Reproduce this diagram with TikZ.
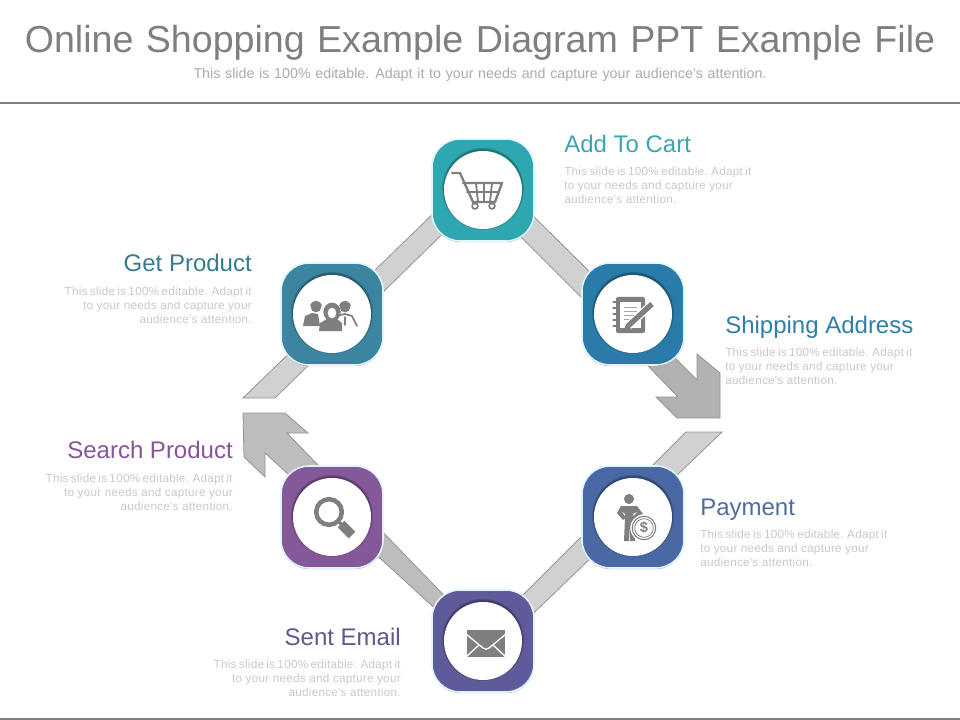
\documentclass[tikz,border=0pt]{standalone}
\usepackage{fontspec}
\setmainfont{Liberation Sans}
\newfontfamily\bodyfont[LetterSpace=2.2]{Liberation Sans}
\usetikzlibrary{shadows}
\definecolor{cCart}{HTML}{2FA7B1}
\definecolor{cShip}{HTML}{2A7BA9}
\definecolor{cPay}{HTML}{4A69A4}
\definecolor{cMail}{HTML}{5F5A99}
\definecolor{cFind}{HTML}{85589A}
\definecolor{cGet}{HTML}{3C85A0}
\definecolor{hCart}{HTML}{3BA5B3}
\definecolor{hShip}{HTML}{2F7FA8}
\definecolor{hPay}{HTML}{4F6D9E}
\definecolor{hMail}{HTML}{5B5A8E}
\definecolor{hFind}{HTML}{87559A}
\definecolor{hGet}{HTML}{367C90}
\definecolor{icon}{HTML}{7F7F7F}
\tikzset{
  tile/.style={draw=white!88!cyan,line width=1.2pt,rounded corners=21pt,minimum size=76.5pt,inner sep=0pt,
    drop shadow={shadow xshift=0pt,shadow yshift=-0.8pt,opacity=.35,fill=black}},
  disc/.style={circle,fill=white,minimum size=58.5pt,inner sep=0pt},
  strip/.style={fill=#1,draw=gray!85,line width=.6pt,line join=miter},
  heading/.style={inner sep=0pt,font=\fontsize{18}{21}\selectfont},
  blurb/.style={inner sep=0pt,text=black!21,font=\bodyfont\fontsize{8.8}{10.5}\selectfont},
  iconline/.style={draw=icon,line width=#1,line cap=round,line join=round},
  iconfill/.style={fill=icon},
}
\newcommand{\disclayer}[1]{%
  \begin{scope}
  \foreach \r in {29.6,30,30.4,30.8}{\fill[black,opacity=.09] (#1)++(0,-1.2) circle[radius=\r pt];}
  \end{scope}}
\newcommand{\blurbR}{\spaceskip=.2em\relax This slide is 100\% editable. Adapt it\\to your needs and capture your\\audience's attention.}
\begin{document}
\begin{tikzpicture}[x=0.75pt,y=-0.75pt]
\useasboundingbox (0,0) rectangle (960,720);
\fill[white] (0,0) rectangle (960,720);
% header
\node[inner sep=0pt,text=icon,font=\fontsize{28.2}{30}\selectfont] (title) at (480,43) {\spaceskip=.33em Online Shopping Example Diagram PPT Example File};
\node[inner sep=0pt,text=black!33,font=\fontsize{10.7}{12}\selectfont] (sub) at (480,75) {\spaceskip=.33em This slide is 100\% editable. Adapt it to your needs and capture your audience's attention.};
\coordinate (ruleL) at (0,103); \coordinate (ruleR) at (960,103);
\draw[icon,line width=2.2pt] (ruleL) -- (ruleR);
\coordinate (footL) at (0,719); \coordinate (footR) at (960,719);
\draw[icon,line width=1.8pt] (footL) -- (footR);
% strips
\draw[strip=black!18] (243,398) -- (470,178) -- (470,207) -- (275,398) -- cycle;
\draw[strip=black!18] (505,188) -- (610,292) -- (600,316) -- (490,206) -- cycle;
\draw[strip=black!30] (640,323) -- (697,380) -- (697,354) -- (720,373) -- (720,418) -- (677,418) -- (656,397) -- (678,397) -- (620,337) -- cycle;
\draw[strip=black!18] (722,432) -- (515,631) -- (505,613) -- (686,432) -- cycle;
\draw[strip=black!26] (463,615) -- (453,625) -- (265,453) -- (265,477) -- (244,457) -- (243,413) -- (285,413) -- (308,433) -- (287,433) -- cycle;
% tiles
\node[tile,fill=cCart] (cart) at (483,190) {};
\node[tile,fill=cShip] (ship) at (633,314) {};
\node[tile,fill=cPay] (pay) at (633,517) {};
\node[tile,fill=cMail] (mail) at (483,641) {};
\node[tile,fill=cFind] (find) at (332,517) {};
\node[tile,fill=cGet] (get) at (332,314) {};
\foreach \n in {cart,ship,pay,mail,find,get}{\disclayer{\n}\node[disc] (\n disc) at (\n) {};}
% cart icon
\begin{scope}[shift={(cart)}]
\draw[iconline=1.8pt] (-31,-17) -- (-23,-17) -- (-10,12) -- (12,12);
\draw[iconline=1.8pt] (-20,-7) -- (19,-7) -- (12,12);
\draw[iconline=1.4pt] (-7,-7) -- (-5,12) (1,-7) -- (1,12) (9,-7) -- (7,12) (-16,2) -- (16,2);
\draw[iconline=1.3pt] (-8,16) circle[radius=2.2pt] (9,16) circle[radius=2.2pt];
\draw[iconline=1.3pt] (-10,12) -- (-8,14) (12,12) -- (9,14);
\end{scope}
% notebook icon
\begin{scope}[shift={(ship)}]
\fill[icon,rounded corners=1.5pt] (-17,-17) rectangle (12,19);
\fill[white] (-13,-12) rectangle (8,14);
\draw[black!35,line width=.5pt] (-9,-7) -- (4,-7) (-9,-3) -- (4,-3) (-9,1) -- (1,1) (-9,5) -- (-2,5);
\draw[iconline=1pt] \foreach \y in {-12,-6,0,6,12}{(-20,\y) -- (-17,\y)};
\draw[white,line width=6pt] (-6,13) -- (18,-9);
\draw[icon,line width=4pt] (-5,12) -- (19,-10);
\fill[icon] (-10,19) -- (-7,10) -- (-2,15) -- cycle;
\end{scope}
% people icon
\begin{scope}[shift={(get)}]
\fill[icon] (-16,-7) circle[radius=4pt];
\fill[icon] (-22,-8) .. controls (-20,-15) and (-12,-15) .. (-10,-8) -- cycle;
\fill[icon] (-29,12) -- (-27,2) -- (-20,-1) -- (-14,0) -- (-12,12) -- cycle;
\fill[icon] (0,-2) ellipse[x radius=6.5pt,y radius=7pt];
\fill[icon] (-13,17) -- (-12,9) -- (-5,5) -- (5,5) -- (10,9) -- (10,17) -- cycle;
\fill[white] (0,-1) ellipse[x radius=3.2pt,y radius=4pt];
\fill[icon] (13,-7) circle[radius=4pt];
\fill[icon] (7,-8) .. controls (9,-15) and (17,-15) .. (19,-8) -- cycle;
\draw[iconline=1.3pt] (8,1) -- (13,0) -- (20,2) -- (25,12);
\draw[iconline=1pt] (13,3) -- (13,11);
\end{scope}
% magnifier icon
\begin{scope}[shift={(find)}]
\draw[icon,line width=3.4pt] (-3,-5) circle[radius=9.6pt];
\draw[icon,line width=7pt] (9,7) -- (20,18);
\draw[icon,line width=2.5pt] (6,4) -- (10,8);
\end{scope}
% envelope icon
\begin{scope}[shift={(mail)}]
\fill[icon] (-16,-11) rectangle (22,16);
\draw[white,line width=1pt] (-17,-7) -- (0,7) .. controls (2,8.5) and (4,8.5) .. (6,7) -- (23,-7);
\draw[white,line width=1pt] (-17,16) -- (-4,4) (23,16) -- (10,4);
\end{scope}
% man with coin icon
\begin{scope}[shift={(pay)}]
\fill[icon] (-4,-18) circle[radius=3.8pt];
\fill[icon] (-12,-11) -- (4,-11) -- (10,-3) -- (3,4) -- (1,0) -- (2,24) -- (-3,24) -- (-3,8) -- (-4,24) -- (-9,24) -- (-8,1) -- (-10,3) -- (-16,-4) -- cycle;
\fill[white] (-11,-5) -- (-8,-3) -- (-8,-1) -- cycle (4,-5) -- (0,-3) -- (0,-1) -- cycle;
\draw[white,fill=white,line width=.5pt] (11,11) circle[radius=10pt];
\draw[icon,line width=.8pt] (11,11) circle[radius=8.8pt];
\draw[icon,line width=.6pt] (11,11) circle[radius=7pt];
\node[inner sep=0pt,text=icon,font=\bfseries\fontsize{11}{11}\selectfont] (dollar) at (11,11) {\$};
\end{scope}
% labels
\node[heading,text=hCart,anchor=base west] (lcart) at (564,153) {Add To Cart};
\node[blurb,anchor=north west,align=left] (tcart) at (564,167) {\blurbR};
\node[heading,text=hShip,anchor=base west] (lship) at (725,333) {Shipping Address};
\node[blurb,anchor=north west,align=left] (tship) at (725,348) {\blurbR};
\node[heading,text=hPay,anchor=base west] (lpay) at (700,515) {Payment};
\node[blurb,anchor=north west,align=left] (tpay) at (700,530) {\blurbR};
\node[heading,text=hMail,anchor=base east] (lmail) at (401,645) {Sent Email};
\node[blurb,anchor=north east,align=right] (tmail) at (401,660) {\blurbR};
\node[heading,text=hFind,anchor=base east] (lfind) at (233,458) {Search Product};
\node[blurb,anchor=north east,align=right] (tfind) at (233,474) {\blurbR};
\node[heading,text=hGet,anchor=base east] (lget) at (252,272) {Get Product};
\node[blurb,anchor=north east,align=right] (tget) at (252,287) {\blurbR};
\end{tikzpicture}
\end{document}
